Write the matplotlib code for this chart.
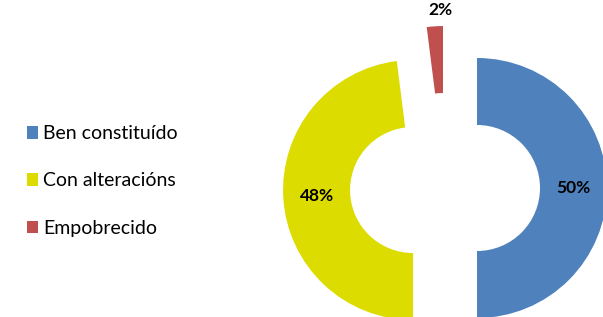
import numpy as np
import matplotlib.pyplot as plt

categories = ["Ben constituído", "Con alteracións", "Empobrecido"]
values = [50, 48, 2]
colors = ["#4F81BD", "#DCDC00", "#C0504D"]

plt.rcParams["font.family"] = ["Lato", "DejaVu Sans"]

fig = plt.figure(figsize=(6.03, 3.17), dpi=100)
ax = fig.add_axes([0, 0, 1, 1])

# pixel-based layout: unexploded centre, outer radius, ring width, explode offset
cx, cy = 445, 129
r_out, ring = 130, 67
expl = 32

wedges, _ = ax.pie(values, colors=colors, startangle=90, counterclock=False,
                   center=(cx, cy), radius=r_out, explode=[expl] * len(values),
                   wedgeprops=dict(width=ring, linewidth=0))

# pie() resets the limits, so set them afterwards
ax.set_xlim(0, 603)
ax.set_ylim(0, 317)
ax.set_aspect("equal")
ax.axis("off")

for w, v in zip(wedges, values):
    mid = np.deg2rad((w.theta1 + w.theta2) / 2)
    wx, wy = w.center
    if v < 5:
        # small slice: label sits just above the wedge
        tx, ty = wx - 3, wy + r_out + 16
    else:
        d = r_out - ring / 2
        tx, ty = wx + d * np.cos(mid), wy + d * np.sin(mid)
    ax.text(tx, ty, f"{v}%", ha="center", va="center",
            fontsize=12.5, fontweight="bold")

ax.legend(wedges, categories, loc="upper left", bbox_to_anchor=(0.015, 0.66),
          frameon=False, fontsize=14, handlelength=0.6, handleheight=0.6,
          handletextpad=0.25, labelspacing=1.55)

fig.savefig("out.png", dpi=100)
